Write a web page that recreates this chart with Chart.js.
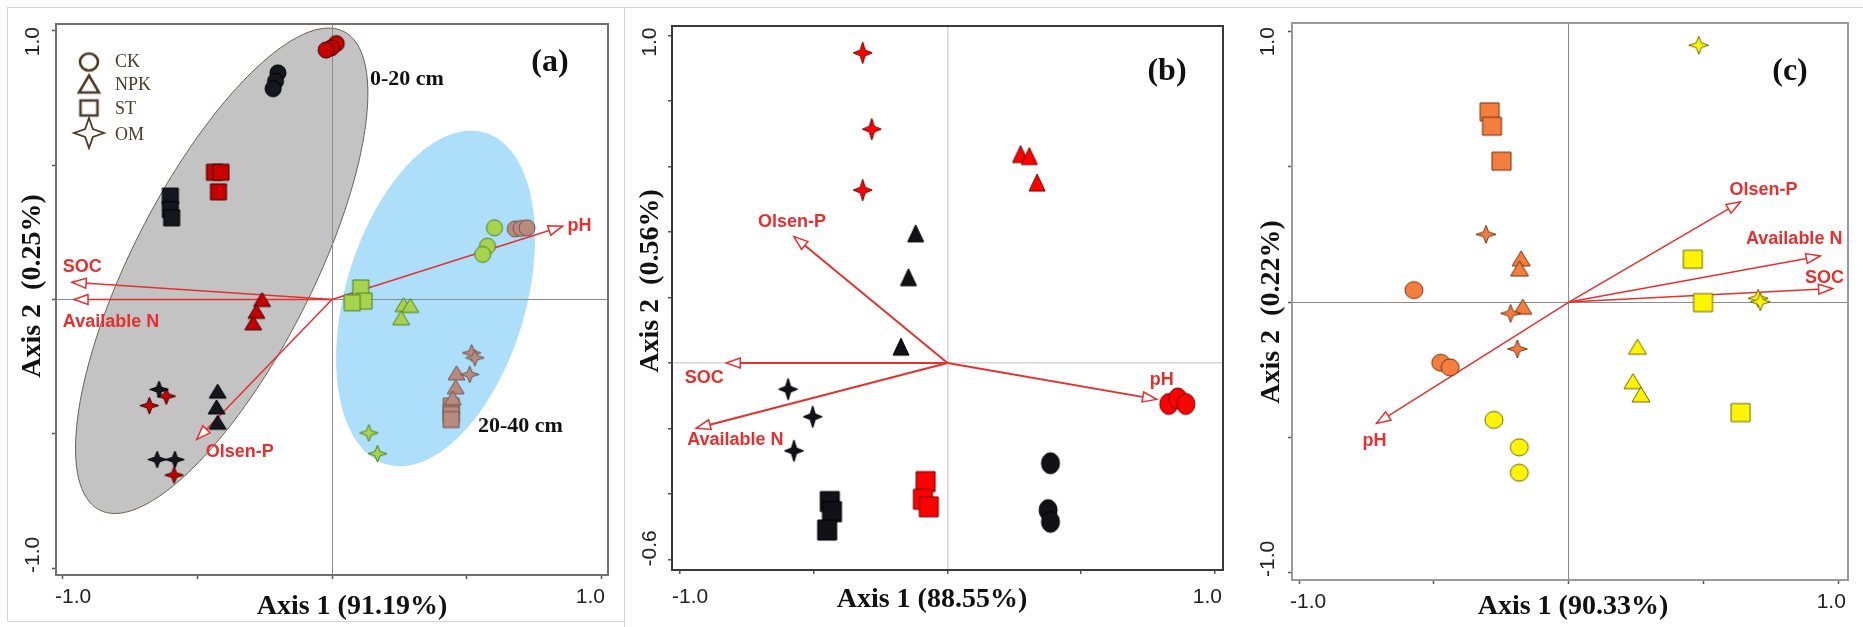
<!DOCTYPE html>
<html><head><meta charset="utf-8">
<script src="https://cdn.jsdelivr.net/npm/chart.js@4.4.1/dist/chart.umd.min.js"></script>
<style>
html,body{margin:0;padding:0;background:#fff;}
body{width:1863px;height:627px;position:relative;overflow:hidden;}
canvas{position:absolute;top:0;}
.fr{position:absolute;background:#d4d4d4;}
</style></head><body>
<div class="fr" style="left:7px;top:7px;width:1856px;height:1px"></div>
<div class="fr" style="left:7px;top:7px;width:1px;height:614px"></div>
<div class="fr" style="left:7px;top:621px;width:618px;height:1px"></div>
<div class="fr" style="left:624px;top:7px;width:1px;height:620px"></div>
<canvas id="ca" width="624" height="627" style="left:0"></canvas>
<canvas id="cb" width="620" height="627" style="left:624px"></canvas>
<canvas id="cc" width="619" height="627" style="left:1244px"></canvas>
<script>
// ---------------- DATA ----------------
const panelLabels = ['(a)', '(b)', '(c)'];
const xAxisTitles = ['Axis 1 (91.19%)', 'Axis 1 (88.55%)', 'Axis 1 (90.33%)'];
const yAxisTitles = ['Axis 2  (0.25%)', 'Axis 2  (0.56%)', 'Axis 2  (0.22%)'];
const legendLabels = ['CK', 'NPK', 'ST', 'OM'];
const depthLabels = ['0-20 cm', '20-40 cm'];

const a_xTickValues = [-1.0, 1.0];
const a_xTickLabels = ['-1.0', '1.0'];
const a_yTickValues = [1.0, -1.0];
const a_yTickLabels = ['1.0', '-1.0'];
const b_xTickValues = [-1.0, 1.0];
const b_xTickLabels = ['-1.0', '1.0'];
const b_yTickValues = [1.0, -0.6];
const b_yTickLabels = ['1.0', '-0.6'];
const c_xTickValues = [-1.0, 1.0];
const c_xTickLabels = ['-1.0', '1.0'];
const c_yTickValues = [1.0, -1.0];
const c_yTickLabels = ['1.0', '-1.0'];

// Panel (a) sample scores
const a_redCK    = [[0.016, 0.953], [-0.003, 0.937], [-0.022, 0.929]];
const a_blackCK  = [[-0.201, 0.844], [-0.210, 0.813], [-0.219, 0.785]];
const a_redST    = [[-0.437, 0.474], [-0.413, 0.474], [-0.422, 0.401]];
const a_blackST  = [[-0.601, 0.385], [-0.601, 0.335], [-0.596, 0.304]];
const a_redNPK   = [[-0.260, 0.000], [-0.281, -0.044], [-0.293, -0.087]];
const a_blackNPK = [[-0.425, -0.341], [-0.429, -0.400], [-0.425, -0.457]];
const a_blackOM  = [[-0.643, -0.335], [-0.650, -0.596], [-0.584, -0.596]];
const a_redOM    = [[-0.679, -0.395], [-0.616, -0.360], [-0.587, -0.654]];
const a_greenCK  = [[0.604, 0.267], [0.578, 0.199], [0.560, 0.168]];
const a_brownCK  = [[0.681, 0.263], [0.703, 0.265], [0.725, 0.267]];
const a_greenST  = [[0.107, 0.043], [0.119, -0.006], [0.075, -0.012]];
const a_greenNPK = [[0.266, -0.019], [0.291, -0.022], [0.257, -0.068]];
const a_brownOM  = [[0.519, -0.199], [0.531, -0.217], [0.512, -0.279]];
const a_brownNPK = [[0.463, -0.273], [0.460, -0.325], [0.449, -0.366]];
const a_brownST  = [[0.443, -0.397], [0.443, -0.428], [0.443, -0.447]];
const a_greenOM  = [[0.137, -0.497], [0.169, -0.574]];
// Panel (a) environmental vectors
const a_envNames = ['SOC', 'Available N', 'pH', 'Olsen-P'];
const a_envX = [-0.966, -0.959, 0.857, -0.503];
const a_envY = [0.064, 0.000, 0.273, -0.521];
// Panel (a) group ellipses (centre, semi-axes, angle in degrees)
const a_ellCX = [-0.410, 0.385];
const a_ellCY = [0.107, 0.004];
const a_ellA = [1.000, 0.644];
const a_ellB = [0.335, 0.335];
const a_ellAngle = [63, 73.5];

// Panel (b)
const b_redOM    = [[-0.317, 0.947], [-0.283, 0.714], [-0.317, 0.528]];
const b_redNPK   = [[0.273, 0.638], [0.306, 0.632], [0.335, 0.551]];
const b_blackNPK = [[-0.119, 0.396], [-0.146, 0.262], [-0.174, 0.050]];
const b_blackOM  = [[-0.596, -0.080], [-0.504, -0.164], [-0.574, -0.268]];
const b_blackST  = [[-0.440, -0.423], [-0.432, -0.454], [-0.450, -0.510]];
const b_redST    = [[-0.082, -0.362], [-0.092, -0.416], [-0.070, -0.439]];
const b_blackCK  = [[0.385, -0.306], [0.376, -0.449], [0.385, -0.485]];
const b_redCK    = [[0.827, -0.125], [0.861, -0.108], [0.891, -0.125]];
const b_envNames = ['SOC', 'Available N', 'pH', 'Olsen-P'];
const b_envX = [-0.827, -0.939, 0.782, -0.574];
const b_envY = [0.000, -0.199, -0.111, 0.386];

// Panel (c)
const c_orangeST  = [[-0.294, 0.702], [-0.285, 0.649], [-0.250, 0.520]];
const c_orangeOM  = [[-0.307, 0.250], [-0.216, -0.042], [-0.191, -0.173]];
const c_orangeNPK = [[-0.177, 0.161], [-0.183, 0.124], [-0.171, -0.017]];
const c_orangeCK  = [[-0.574, 0.044], [-0.475, -0.224], [-0.440, -0.241]];
const c_yellowCK  = [[-0.278, -0.435], [-0.184, -0.536], [-0.184, -0.630]];
const c_yellowNPK = [[0.254, -0.165], [0.237, -0.292], [0.267, -0.341]];
const c_yellowST  = [[0.459, 0.158], [0.497, -0.002], [0.636, -0.408]];
const c_yellowOM  = [[0.481, 0.948], [0.701, 0.014], [0.709, 0.001]];
const c_envNames = ['Olsen-P', 'Available N', 'SOC', 'pH'];
const c_envX = [0.636, 0.931, 0.977, -0.713];
const c_envY = [0.370, 0.170, 0.050, -0.448];

// ---------------- STYLE ----------------
const SERIF = '"Liberation Serif","Times New Roman",serif';
const SANS = '"Liberation Sans",Arial,sans-serif';
const ARROW_RED = '#e5302f';

function marker(shape, w, h, fill, stroke, lw) {
  const pad = Math.ceil(lw) + 1;
  const c = document.createElement('canvas');
  c.width = Math.ceil(w + 2 * pad); c.height = Math.ceil(h + 2 * pad);
  const g = c.getContext('2d');
  const cx = c.width / 2, cy = c.height / 2;
  g.beginPath();
  if (shape === 'circle') g.ellipse(cx, cy, w / 2, h / 2, 0, 0, 2 * Math.PI);
  else if (shape === 'rect') g.rect(cx - w / 2, cy - h / 2, w, h);
  else if (shape === 'triangle') { g.moveTo(cx, cy - h / 2); g.lineTo(cx + w / 2, cy + h / 2); g.lineTo(cx - w / 2, cy + h / 2); g.closePath(); }
  else if (shape === 'star') {
    const ix = w * 0.13, iy = h * 0.13;
    g.moveTo(cx, cy - h / 2); g.lineTo(cx + ix, cy - iy);
    g.lineTo(cx + w / 2, cy); g.lineTo(cx + ix, cy + iy);
    g.lineTo(cx, cy + h / 2); g.lineTo(cx - ix, cy + iy);
    g.lineTo(cx - w / 2, cy); g.lineTo(cx - ix, cy - iy); g.closePath();
  }
  if (fill) { g.fillStyle = fill; g.fill(); }
  if (stroke) { g.strokeStyle = stroke; g.lineWidth = lw; g.lineJoin = 'miter'; g.stroke(); }
  return c;
}

const colA = { red: ['#c80000', '#3a0000'], black: ['#16161e', '#000000'], green: ['#a6d44c', '#4f7d1c'], brown: ['#b98b7e', '#6f5349'] };
const colB = { red: ['#ff0000', '#6a0000'], black: ['#111117', '#000000'] };
const colC = { orange: ['#f57d3e', '#6d3410'], yellow: ['#fff500', '#6b6800'] };

const panels = [
  {
    id: 'ca', W: 624, H: 627, box: { l: 56, r: 608, t: 24, b: 575 },
    xMin: -1.026, xMax: 1.026, yMin: -1.026, yMax: 1.026, yStep: 0.5,
    zeroColor: '#8c8c8c', zeroWidth: 1, boxColor: '#707070', boxWidth: 2,
    sizes: { circle: [16, 16], rect: [16, 16], triangle: [17, 14], star: [19, 17] },
    series: [
      [a_redCK, 'circle', colA.red], [a_blackCK, 'circle', colA.black],
      [a_redST, 'rect', colA.red], [a_blackST, 'rect', colA.black],
      [a_redNPK, 'triangle', colA.red], [a_blackNPK, 'triangle', colA.black],
      [a_blackOM, 'star', colA.black], [a_redOM, 'star', colA.red],
      [a_greenCK, 'circle', colA.green], [a_brownCK, 'circle', colA.brown],
      [a_greenST, 'rect', colA.green], [a_greenNPK, 'triangle', colA.green],
      [a_brownOM, 'star', colA.brown], [a_brownNPK, 'triangle', colA.brown],
      [a_brownST, 'rect', colA.brown], [a_greenOM, 'star', colA.green]
    ],
    env: { names: a_envNames, x: a_envX, y: a_envY, off: [[10, -15], [37, 23], [17, 0], [43, 13]] },
    arrowWidth: 1.5,
    ellipses: { cx: a_ellCX, cy: a_ellCY, a: a_ellA, b: a_ellB, ang: a_ellAngle, fill: ['#c3c3c3', '#aedffa'], stroke: ['#6e604a', null] },
    xTicks: { v: a_xTickValues, t: a_xTickLabels, y: 597, offL: -8, offR: 4 },
    yTicks: { v: a_yTickValues, t: a_yTickLabels, x: 33, offT: -4, offB: 5 },
    xTitle: { t: xAxisTitles[0], x: 352, y: 607 },
    yTitle: { t: yAxisTitles[0], x: 33, y: 286 },
    label: { t: panelLabels[0], x: 550, y: 63 },
    extra: function (ctx) {
      ctx.fillStyle = '#111';
      ctx.font = 'bold 22px ' + SERIF; ctx.textAlign = 'left'; ctx.textBaseline = 'middle';
      ctx.fillText(depthLabels[0], 370, 79);
      ctx.fillText(depthLabels[1], 478, 426);
      // legend
      const lc = '#4b3c26';
      const shapes = [['circle', 18, 17], ['triangle', 20, 17], ['rect', 17, 15], ['star', 30, 30]];
      const ys = [62, 84, 108, 133];
      shapes.forEach((s, i) => {
        const m = marker(s[0], s[1], s[2], null, lc, s[0] === 'star' ? 1.8 : 2.6);
        ctx.drawImage(m, 89 - m.width / 2, ys[i] - m.height / 2);
      });
      ctx.fillStyle = lc; ctx.font = '18px ' + SERIF;
      const ty = [62, 85, 109, 135];
      legendLabels.forEach((t, i) => ctx.fillText(t, 115, ty[i]));
    }
  },
  {
    id: 'cb', W: 620, H: 627, box: { l: 48, r: 599, t: 26, b: 570 },
    xMin: -1.030, xMax: 1.030, yMin: -0.632, yMax: 1.029, yStep: 0.2,
    zeroColor: '#d6d6d6', zeroWidth: 1.5, boxColor: '#3a3a3a', boxWidth: 2,
    sizes: { circle: [18, 21], rect: [19, 20], triangle: [16, 17], star: [19, 22] },
    series: [
      [b_redOM, 'star', colB.red], [b_redNPK, 'triangle', colB.red],
      [b_blackNPK, 'triangle', colB.black], [b_blackOM, 'star', colB.black],
      [b_blackST, 'rect', colB.black], [b_redST, 'rect', colB.red],
      [b_blackCK, 'circle', colB.black], [b_redCK, 'circle', colB.red]
    ],
    env: { names: b_envNames, x: b_envX, y: b_envY, off: [[-22, 15], [39, 12], [5, -19], [-2, -15]] },
    arrowWidth: 2,
    ellipses: null,
    xTicks: { v: b_xTickValues, t: b_xTickLabels, y: 597, offL: -8, offR: 7 },
    yTicks: { v: b_yTickValues, t: b_yTickLabels, x: 26, offT: -8, offB: 7 },
    xTitle: { t: xAxisTitles[1], x: 308, y: 600 },
    yTitle: { t: yAxisTitles[1], x: 27, y: 281 },
    label: { t: panelLabels[1], x: 543, y: 72 },
    extra: null
  },
  {
    id: 'cc', W: 619, H: 627, box: { l: 48, r: 604, t: 23, b: 580 },
    xMin: -1.026, xMax: 1.034, yMin: -1.026, yMax: 1.030, yStep: 0.5,
    zeroColor: '#8c8c8c', zeroWidth: 1, boxColor: '#9a9a9a', boxWidth: 2,
    sizes: { circle: [18, 17], rect: [19, 18], triangle: [18, 15], star: [20, 18] },
    series: [
      [c_orangeST, 'rect', colC.orange], [c_orangeOM, 'star', colC.orange],
      [c_orangeNPK, 'triangle', colC.orange], [c_orangeCK, 'circle', colC.orange],
      [c_yellowCK, 'circle', colC.yellow], [c_yellowNPK, 'triangle', colC.yellow],
      [c_yellowST, 'rect', colC.yellow], [c_yellowOM, 'star', colC.yellow]
    ],
    env: { names: c_envNames, x: c_envX, y: c_envY, off: [[23, -12], [-26, -17], [-8, -10], [-2, 18]] },
    arrowWidth: 1.5,
    ellipses: null,
    xTicks: { v: c_xTickValues, t: c_xTickLabels, y: 602, offL: -9, offR: 7 },
    yTicks: { v: c_yTickValues, t: c_yTickLabels, x: 24, offT: -4, offB: 4 },
    xTitle: { t: xAxisTitles[2], x: 329, y: 607 },
    yTitle: { t: yAxisTitles[2], x: 28, y: 312 },
    label: { t: panelLabels[2], x: 546, y: 72 },
    extra: null
  }
];

function vtext(ctx, txt, x, y, align, font, color) {
  ctx.save(); ctx.translate(x, y); ctx.rotate(-Math.PI / 2);
  ctx.font = font; ctx.fillStyle = color; ctx.textAlign = align; ctx.textBaseline = 'middle';
  ctx.fillText(txt, 0, 0); ctx.restore();
}
function arrowHead(ctx, x0, y0, x1, y1, len, hw, color, lw) {
  const ang = Math.atan2(y1 - y0, x1 - x0);
  const bx = x1 - len * Math.cos(ang), by = y1 - len * Math.sin(ang);
  const nx = -Math.sin(ang), ny = Math.cos(ang);
  ctx.beginPath(); ctx.moveTo(x1, y1);
  ctx.lineTo(bx + nx * hw, by + ny * hw); ctx.lineTo(bx - nx * hw, by - ny * hw); ctx.closePath();
  ctx.fillStyle = '#fff'; ctx.fill(); ctx.strokeStyle = color; ctx.lineWidth = lw; ctx.stroke();
}

function buildPanel(p) {
  const datasets = [];
  p.env.names.forEach((n, i) => {
    datasets.push({
      data: [{ x: 0, y: 0 }, { x: p.env.x[i], y: p.env.y[i] }], showLine: true,
      borderColor: ARROW_RED, borderWidth: p.arrowWidth, pointRadius: 0, pointHoverRadius: 0, order: 10
    });
  });
  p.series.forEach(s => {
    const sz = p.sizes[s[1]];
    const m = marker(s[1], sz[0], sz[1], s[2][0], s[2][1], 1);
    datasets.push({ data: s[0].map(d => ({ x: d[0], y: d[1] })), pointStyle: m, pointRadius: 6, pointHoverRadius: 6, order: 1 });
  });

  const deco = {
    id: 'deco_' + p.id,
    beforeDraw(chart) {
      if (!p.ellipses) return;
      const ctx = chart.ctx, xs = chart.scales.x, ys = chart.scales.y, e = p.ellipses;
      for (let k = 0; k < e.cx.length; k++) {
        const th = e.ang[k] * Math.PI / 180;
        ctx.beginPath();
        for (let i = 0; i <= 240; i++) {
          const t = i / 240 * 2 * Math.PI;
          const x = e.cx[k] + e.a[k] * Math.cos(th) * Math.cos(t) - e.b[k] * Math.sin(th) * Math.sin(t);
          const y = e.cy[k] + e.a[k] * Math.sin(th) * Math.cos(t) + e.b[k] * Math.cos(th) * Math.sin(t);
          const px = xs.getPixelForValue(x), py = ys.getPixelForValue(y);
          if (i === 0) ctx.moveTo(px, py); else ctx.lineTo(px, py);
        }
        ctx.closePath();
        ctx.fillStyle = e.fill[k]; ctx.fill();
        if (e.stroke[k]) { ctx.strokeStyle = e.stroke[k]; ctx.lineWidth = 1; ctx.stroke(); }
      }
    },
    afterDatasetsDraw(chart) {
      const ctx = chart.ctx, xs = chart.scales.x, ys = chart.scales.y, a = chart.chartArea;
      const ox = xs.getPixelForValue(0), oy = ys.getPixelForValue(0);
      ctx.save();
      p.env.names.forEach((n, i) => {
        const tx = xs.getPixelForValue(p.env.x[i]), ty = ys.getPixelForValue(p.env.y[i]);
        arrowHead(ctx, ox, oy, tx, ty, 14, 5, ARROW_RED, 1.5);
        ctx.font = 'bold 18px ' + SANS; ctx.fillStyle = ARROW_RED;
        ctx.textAlign = 'center'; ctx.textBaseline = 'middle';
        ctx.fillText(n, tx + p.env.off[i][0], ty + p.env.off[i][1]);
      });
      ctx.strokeStyle = p.boxColor; ctx.lineWidth = p.boxWidth;
      ctx.strokeRect(a.left, a.top, a.right - a.left, a.bottom - a.top);
      ctx.restore();
    },
    afterDraw(chart) {
      const ctx = chart.ctx, xs = chart.scales.x, ys = chart.scales.y;
      ctx.save();
      const tf = '21px ' + SANS, tc = '#222';
      ctx.font = tf; ctx.fillStyle = tc; ctx.textBaseline = 'middle';
      ctx.textAlign = 'left';
      ctx.fillText(p.xTicks.t[0], xs.getPixelForValue(p.xTicks.v[0]) + p.xTicks.offL, p.xTicks.y);
      ctx.textAlign = 'right';
      ctx.fillText(p.xTicks.t[1], xs.getPixelForValue(p.xTicks.v[1]) + p.xTicks.offR, p.xTicks.y);
      vtext(ctx, p.yTicks.t[0], p.yTicks.x, ys.getPixelForValue(p.yTicks.v[0]) + p.yTicks.offT, 'right', tf, tc);
      vtext(ctx, p.yTicks.t[1], p.yTicks.x, ys.getPixelForValue(p.yTicks.v[1]) + p.yTicks.offB, 'left', tf, tc);
      ctx.font = 'bold 28px ' + SERIF; ctx.fillStyle = '#111'; ctx.textAlign = 'center';
      ctx.fillText(p.xTitle.t, p.xTitle.x, p.xTitle.y);
      vtext(ctx, p.yTitle.t, p.yTitle.x, p.yTitle.y, 'center', 'bold 28px ' + SERIF, '#111');
      ctx.font = 'bold 32px ' + SERIF; ctx.fillStyle = '#111'; ctx.textAlign = 'center';
      ctx.fillText(p.label.t, p.label.x, p.label.y);
      if (p.extra) p.extra(ctx);
      ctx.restore();
    }
  };

  const gridCfg = {
    color: (c) => (c.tick && c.tick.value === 0) ? p.zeroColor : 'rgba(0,0,0,0)',
    lineWidth: p.zeroWidth, tickColor: '#555', tickLength: 4, tickWidth: 1.5,
    drawOnChartArea: true, drawTicks: true
  };
  new Chart(document.getElementById(p.id), {
    type: 'scatter',
    data: { datasets },
    options: {
      responsive: false, animation: false, devicePixelRatio: 1,
      layout: { padding: { top: p.box.t, right: p.W - p.box.r, left: 0, bottom: 0 } },
      plugins: { legend: { display: false }, tooltip: { enabled: false } },
      events: [],
      scales: {
        x: {
          type: 'linear', position: 'bottom', min: p.xMin, max: p.xMax,
          ticks: { stepSize: 0.5, includeBounds: false, display: false },
          grid: gridCfg, border: { display: false },
          afterFit: (s) => { s.height = p.H - p.box.b; }
        },
        y: {
          type: 'linear', position: 'left', min: p.yMin, max: p.yMax,
          ticks: { stepSize: p.yStep, includeBounds: false, display: false },
          grid: gridCfg, border: { display: false },
          afterFit: (s) => { s.width = p.box.l; }
        }
      }
    },
    plugins: [deco]
  });
}
panels.forEach(buildPanel);
</script>
</body></html>
